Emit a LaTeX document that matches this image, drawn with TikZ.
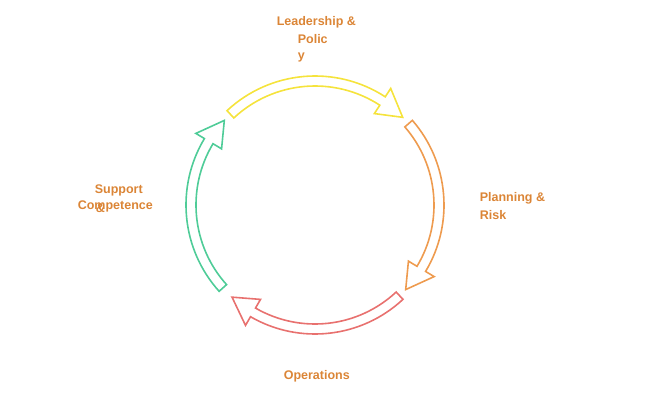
\documentclass[tikz,border=0pt]{standalone}
\usepackage{fontspec}
\setmainfont{Liberation Sans}
\begin{document}
\begin{tikzpicture}[x=1pt,y=1pt,line width=1.6pt,
  lbl/.style={font=\bfseries\fontsize{12.5}{14}\selectfont,text=lab,inner sep=0pt,anchor=west},
  ]
\definecolor{lab}{HTML}{DB8536}
\definecolor{cy}{HTML}{F5E33C}
\definecolor{co}{HTML}{EE9B4F}
\definecolor{cr}{HTML}{E8716F}
\definecolor{cg}{HTML}{4FCC98}
\useasboundingbox (0,0) rectangle (650,400);
\newcommand{\ringarrow}[3]{%
  \draw[#1,line join=miter] ([shift={(#2:129)}]315,195) arc[start angle=#2,end angle=#3+12,radius=129]
   -- ([shift={(#3+12:139)}]315,195) -- ([shift={(#3:124)}]315,195)
   -- ([shift={(#3+12:109)}]315,195) -- ([shift={(#3+12:119)}]315,195)
   arc[start angle=#3+12,end angle=#2,radius=119] -- cycle;}
\ringarrow{cy}{133}{45}
\ringarrow{co}{41}{-43}
\ringarrow{cr}{-47}{-132}
\ringarrow{cg}{-138}{-223}
\node[lbl] (l1) at (276,378) {Leadership \&};
\node[lbl] (l2) at (297,361) {Polic};
\node[lbl] (l3) at (297,343) {y};
\node[lbl] (p1) at (479,202) {Planning \&};
\node[lbl] (p2) at (479,185) {Risk};
\node[lbl] (o1) at (283,24) {Operations};
\node[lbl] (s1) at (94,210) {Support};
\node[lbl] (s2) at (77,194) {Competence};
\node[lbl] (s3) at (95,192) {\&};
\end{tikzpicture}
\end{document}
